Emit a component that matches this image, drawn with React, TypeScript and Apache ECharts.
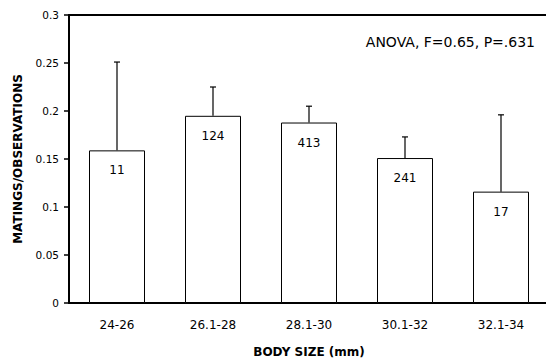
import React, { useEffect, useRef } from "react";
import * as echarts from "echarts";

const categories = ["24-26", "26.1-28", "28.1-30", "30.1-32", "32.1-34"];
const means = [0.159, 0.195, 0.188, 0.151, 0.116];
const upperErrors = [0.251, 0.225, 0.205, 0.173, 0.196];
const sampleSizes = ["11", "124", "413", "241", "17"];
const yTicks = { min: 0, max: 0.3, interval: 0.05 };
const annotation = "ANOVA, F=0.65, P=.631";

const FONT = "'DejaVu Sans', sans-serif";

export default function App() {
  const ref = useRef<HTMLDivElement>(null);
  useEffect(() => {
    if (!ref.current) return;
    const chart = echarts.init(ref.current, undefined, { renderer: "svg" });
    chart.setOption({
      animation: false,
      backgroundColor: "#ffffff",
      textStyle: { fontFamily: FONT, color: "#000" },
      grid: {
        left: 69,
        top: 15,
        width: 480,
        bottom: 55,
        containLabel: false,
        outerBoundsMode: "none",
      },
      xAxis: [
        {
          type: "category",
          data: categories,
          position: "bottom",
          axisLine: { lineStyle: { color: "#000", width: 2 } },
          axisTick: { show: false },
          axisLabel: { color: "#000", fontSize: 12, margin: 16, fontFamily: FONT },
          name: "BODY SIZE (mm)",
          nameLocation: "middle",
          nameGap: 43,
          nameTextStyle: { fontWeight: "bold", fontSize: 12, color: "#000", fontFamily: FONT },
        },
        {
          type: "category",
          data: categories,
          position: "top",
          axisLine: { lineStyle: { color: "#000", width: 2 } },
          axisTick: { show: false },
          axisLabel: { show: false },
        },
      ],
      yAxis: {
        type: "value",
        min: yTicks.min,
        max: yTicks.max,
        interval: yTicks.interval,
        axisLine: { show: true, lineStyle: { color: "#000", width: 2 } },
        axisTick: { show: true, length: 5, lineStyle: { color: "#000", width: 1.5 } },
        splitLine: { show: false },
        axisLabel: { color: "#000", fontSize: 10.5, margin: 10, fontFamily: FONT },
        name: "MATINGS/OBSERVATIONS",
        nameLocation: "middle",
        nameGap: 45,
        nameTextStyle: { fontWeight: "bold", fontSize: 12, color: "#000", fontFamily: FONT },
      },
      graphic: [
        {
          type: "text",
          right: 11,
          top: 35,
          style: { text: annotation, fontSize: 14, fill: "#000", fontFamily: FONT },
        },
      ],
      series: [
        {
          type: "bar",
          data: means,
          barWidth: 56,
          itemStyle: { color: "#ffffff", borderColor: "#000", borderWidth: 1 },
          label: {
            show: true,
            position: "insideTop",
            distance: 14,
            fontSize: 12,
            color: "#000",
            fontFamily: FONT,
            formatter: (p: any) => sampleSizes[p.dataIndex],
          },
          z: 2,
        },
        {
          type: "custom",
          data: categories.map((_, i) => [i, means[i], upperErrors[i]]),
          z: 3,
          renderItem: (params: any, api: any) => {
            const i = api.value(0);
            const lo = api.coord([i, api.value(1)]);
            const hi = api.coord([i, api.value(2)]);
            const half = 3;
            return {
              type: "group",
              children: [
                {
                  type: "line",
                  shape: { x1: lo[0], y1: lo[1], x2: hi[0], y2: hi[1] },
                  style: { stroke: "#000", lineWidth: 1.2 },
                },
                {
                  type: "line",
                  shape: { x1: hi[0] - half, y1: hi[1], x2: hi[0] + half, y2: hi[1] },
                  style: { stroke: "#000", lineWidth: 1.2 },
                },
              ],
            };
          },
        },
      ],
    });
    return () => chart.dispose();
  }, []);
  return (
    <div
      ref={ref}
      style={{ position: "fixed", left: 0, top: 0, width: 546, height: 358 }}
    />
  );
}
